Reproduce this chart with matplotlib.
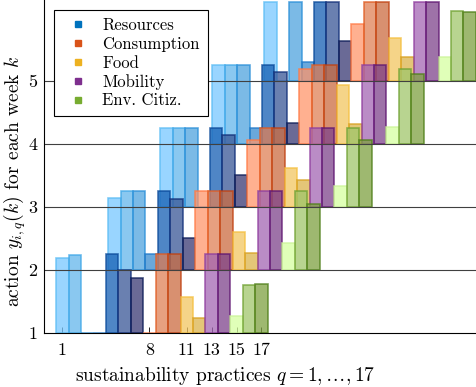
import matplotlib
matplotlib.use("Agg")
import matplotlib.pyplot as plt
from matplotlib.lines import Line2D

plt.rcParams['font.family'] = 'cmr10'
plt.rcParams['mathtext.fontset'] = 'cm'
plt.rcParams['axes.formatter.use_mathtext'] = True

# practices 1..17, one row of bar heights per week (drawn on baseline = week)
practices = list(range(1, 18))
weeks = [1, 2, 3, 4, 5]
week1 = [1.19, 1.24, 0, 0, 1.25, 1.0, 0.87, 0, 1.25, 1.25, 0.57, 0.24, 1.25, 1.25, 0.27, 0.76, 0.78]
week2 = [1.14, 1.25, 1.25, 0.25, 1.25, 1.12, 0.5, 1.25, 1.25, 1.25, 0.6, 0.27, 1.25, 1.25, 0.42, 1.25, 1.05]
week3 = [1.25, 1.25, 1.25, 0, 1.25, 1.14, 0.5, 1.06, 1.25, 1.25, 0.62, 0.43, 1.25, 1.25, 0.33, 1.25, 1.06]
week4 = [1.25, 1.25, 1.25, 0.25, 1.25, 1.14, 0.33, 1.18, 1.25, 1.25, 0.94, 0.31, 1.25, 1.25, 0.27, 1.19, 1.1]
week5 = [1.25, 0, 1.25, 0.3, 1.25, 1.25, 0.63, 0.9, 1.25, 1.25, 0.67, 0.38, 1.25, 1.25, 0.38, 1.11, 1.09]
heights = [week1, week2, week3, week4, week5]

categories = ['Resources', 'Consumption', 'Food', 'Mobility', 'Env. Citiz.']
cat_colors = ['#0072BD', '#D95319', '#EDB120', '#7E2F8E', '#77AC30']
xtick_vals = [1, 8, 11, 13, 15, 17]

# shades per practice (light -> dark inside each category)
face = ['#77C7FF', '#63B6EB', '#4FA3DE', '#388BD0', '#145EB3', '#385696', '#383873',
        '#FF966B', '#E08056', '#CB6B40',
        '#F2C660', '#DCB34B',
        '#A366B3', '#7E438B',
        '#D6FFA0', '#A0C66B', '#7EA040']
edge = ['#5BBCF5', '#40A8E8', '#2A8FD8', '#1E78C8', '#0A4A9A', '#102E78', '#0A1A55',
        '#FF7A45', '#E05A20', '#C04010',
        '#F5C040', '#D8A020',
        '#8E3C9E', '#5E1470',
        '#CCF59A', '#6EA030', '#4E7E18']

shift = 4.18  # horizontal offset between consecutive weeks

fig = plt.figure(figsize=(4.77, 3.87), dpi=100)
ax = fig.add_axes([44/477, 54/387, 433/477, 333/387])

# later weeks behind, first week in front
for k in reversed(range(len(weeks))):
    xs = [q + k*shift for q in practices]
    ax.bar(xs, heights[k], width=1.0, bottom=weeks[k], color=face,
           edgecolor=edge, linewidth=1.2, alpha=0.75, zorder=2)

for yv in [2, 3, 4, 5]:
    ax.axhline(yv, color='#404040', lw=0.8, zorder=4)

ax.set_xlim(-0.47, 34.31)
ax.set_ylim(1, 6.28)
ax.set_xticks(xtick_vals)
ax.set_xticklabels([str(v) for v in xtick_vals])
ax.set_yticks([1, 2, 3, 4, 5])
ax.set_yticklabels(['1', '2', '3', '4', '5'])
ax.tick_params(direction='in', length=4, width=0.6, labelsize=13, pad=5)
ax.tick_params(axis='x', pad=7)
for s in ['top', 'right']:
    ax.spines[s].set_visible(False)
for s in ['left', 'bottom']:
    ax.spines[s].set_linewidth(0.8)
    ax.spines[s].set_zorder(5)

ax.set_xlabel(r'sustainability practices $q = 1, \ldots, 17$', fontsize=14)
ax.xaxis.set_label_coords((225 - 44)/433, -0.095)
ax.set_ylabel(r'action $y_{i,q}(k)$ for each week $k$', fontsize=14)
ax.yaxis.set_label_coords(-0.037, 1 - 181/333)

handles = [Line2D([], [], marker='s', linestyle='none', markersize=4,
                  color=c) for c in cat_colors]
leg = ax.legend(handles, categories, loc='upper left',
                bbox_to_anchor=(54/477, 1 - 10/387), bbox_transform=fig.transFigure,
                borderaxespad=0, fancybox=False, framealpha=1, edgecolor='black',
                fontsize=12, handlelength=1.98, handletextpad=0.44,
                labelspacing=0.2, borderpad=0.48)
leg.get_frame().set_linewidth(0.8)
leg.set_zorder(6)

fig.savefig('out.png', dpi=100)
